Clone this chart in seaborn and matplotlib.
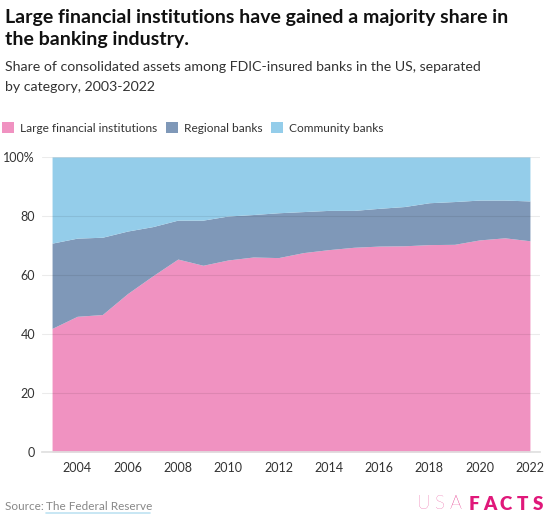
import numpy as np
import matplotlib
matplotlib.use("Agg")
import matplotlib.pyplot as plt
from matplotlib.patches import Patch
import pandas as pd
import seaborn as sns

# share of consolidated assets (%)
years = list(range(2003, 2023))
large = [41.9, 46.0, 46.6, 53.7, 59.7, 65.4, 63.3, 65.1, 66.1, 65.9,
         67.6, 68.6, 69.4, 69.8, 69.9, 70.3, 70.4, 71.9, 72.6, 71.6]
# cumulative top of the regional band
large_plus_regional = [70.8, 72.5, 72.8, 74.9, 76.4, 78.6, 78.6, 80.0, 80.5, 81.1,
                       81.5, 81.9, 81.9, 82.6, 83.2, 84.5, 84.9, 85.4, 85.4, 85.1]

categories = ["Large financial institutions", "Regional banks", "Community banks"]
colors = ["#f092c1", "#7f98b8", "#94cdea"]
ytick_labels = ["0", "20", "40", "60", "80", "100%"]

df = pd.DataFrame({"year": years, "large": large, "cum": large_plus_regional})
df["regional"] = df["cum"] - df["large"]
df["community"] = 100 - df["cum"]

sns.set_theme(style="white")
plt.rcParams["font.family"] = ["Lato", "DejaVu Sans"]

fig = plt.figure(figsize=(5.51, 5.17), dpi=100)
ax = fig.add_axes([42 / 551, 1 - 452 / 517, 498 / 551, 295 / 517])

ax.stackplot(df["year"], df["large"], df["regional"], df["community"],
             colors=colors, linewidth=0)

ax.set_xlim(2002.6, 2022.4)
ax.set_ylim(0, 100)
ax.set_yticks(np.arange(0, 101, 20))
ax.set_yticklabels(ytick_labels)
ax.set_xticks(range(2004, 2023, 2))
ax.tick_params(axis="both", length=0, labelsize=9, colors="#333333")
ax.tick_params(axis="y", pad=5)
ax.tick_params(axis="x", pad=7)
ax.grid(axis="y", color="#000000", alpha=0.08, linewidth=0.8)
ax.set_axisbelow(False)
sns.despine(ax=ax, left=True, top=True, right=True, bottom=False)
ax.spines["bottom"].set_color("#e0e0e0")
ax.set_xlabel("")
ax.set_ylabel("")

# titles
fig.text(5 / 551, 1 - 17 / 517, "Large financial institutions have gained a majority share in",
         fontsize=14, fontweight="bold", color="#111111", va="center")
fig.text(5 / 551, 1 - 40 / 517, "the banking industry.",
         fontsize=14, fontweight="bold", color="#111111", va="center")
fig.text(5 / 551, 1 - 67 / 517, "Share of consolidated assets among FDIC-insured banks in the US, separated",
         fontsize=10.2, color="#333333", va="center")
fig.text(5 / 551, 1 - 87 / 517, "by category, 2003-2022",
         fontsize=10.2, color="#333333", va="center")

handles = [Patch(facecolor=c, edgecolor="none") for c in colors]
fig.legend(handles, categories, loc="center left", bbox_to_anchor=(0, 1 - 128 / 517),
           ncol=3, frameon=False, fontsize=8.6, handlelength=1.0, handleheight=1.0,
           handletextpad=0.5, columnspacing=0.7, borderaxespad=0, borderpad=0.2,
           labelcolor="#333333")

# footer
fig.text(5 / 551, 1 - 506 / 517, "Source: ", fontsize=8.5, color="#888888", va="center")
fig.text(46 / 551, 1 - 506 / 517, "The Federal Reserve", fontsize=8.5, color="#888888", va="center")
fig.add_artist(plt.Line2D([46 / 551, 150 / 551], [1 - 513 / 517] * 2,
                          color="#bfe3f2", linewidth=1.2))

# letter-spaced logo
for i, ch in enumerate("USA"):
    fig.text((424 + 16 * i) / 551, 1 - 504 / 517, ch, fontsize=13.5, color="#e0187a",
             fontweight="light", va="center", ha="center")
for i, ch in enumerate("FACTS"):
    fig.text((474 + 16 * i) / 551, 1 - 504 / 517, ch, fontsize=13.5, color="#e0187a",
             fontweight="heavy", va="center", ha="center")

fig.savefig("out.png", dpi=100)
